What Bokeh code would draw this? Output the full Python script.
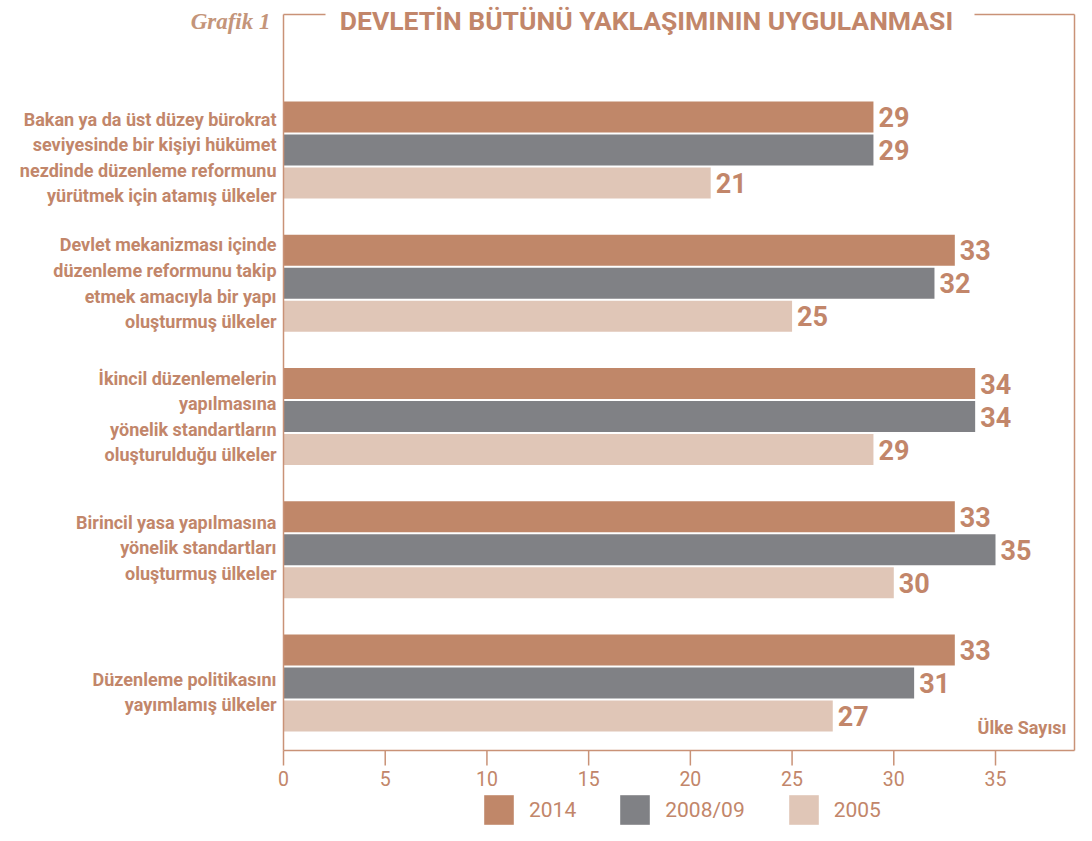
from bokeh.plotting import figure
from bokeh.models import ColumnDataSource, Range1d, Legend, LegendItem
from bokeh.core.properties import value
from bokeh.embed import file_html
from bokeh.resources import INLINE

# ---------------- data ----------------
categories = [
    "Bakan ya da üst düzey bürokrat\nseviyesinde bir kişiyi hükümet\nnezdinde düzenleme reformunu\nyürütmek için atamış ülkeler",
    "Devlet mekanizması içinde\ndüzenleme reformunu takip\netmek amacıyla bir yapı\noluşturmuş ülkeler",
    "İkincil düzenlemelerin\nyapılmasına\nyönelik standartların\noluşturulduğu ülkeler",
    "Birincil yasa yapılmasına\nyönelik standartları\noluşturmuş ülkeler",
    "Düzenleme politikasını\nyayımlamış ülkeler",
]
series = ["2014", "2008/09", "2005"]
values_2014 = [29, 33, 34, 33, 33]
values_2008 = [29, 32, 34, 35, 31]
values_2005 = [21, 25, 29, 30, 27]
x_ticks = [0, 5, 10, 15, 20, 25, 30, 35]
chart_label = "Grafik 1"
chart_title = "DEVLETİN BÜTÜNÜ YAKLAŞIMININ UYGULANMASI"
axis_title = "Ülke Sayısı"

# ---------------- style / layout ----------------
C2014 = "#C08769"
C2008 = "#808185"
C2005 = "#E0C6B7"
TXT = "#C2866A"
LINE = "#C99277"
FONT = "Roboto"

W, H = 1076, 825
X0_PX = 283.0      # canvas x of value 0
PXU = 20.343       # px per unit on x
Y0_PX = 149.5      # canvas y of first category centre
PYU = 133.25       # px per category
BAR_H = 31 / PYU
OFF = 33 / PYU


def px(cx):
    return (cx - X0_PX) / PXU


def py(cy):
    return (cy - Y0_PX) / PYU


p = figure(width=W, height=H, output_backend="svg", toolbar_location=None,
           x_range=Range1d(px(0), px(W)), y_range=Range1d(py(H), py(0)),
           x_axis_type=None, y_axis_type=None,
           min_border=0, min_border_left=0, min_border_right=0,
           min_border_top=0, min_border_bottom=0)
p.xgrid.visible = False
p.ygrid.visible = False
p.outline_line_color = None
p.background_fill_color = "white"
p.border_fill_color = "white"

pos = list(range(len(categories)))

# bars + value labels
cols = [(values_2014, C2014, -OFF), (values_2008, C2008, 0.0), (values_2005, C2005, OFF)]
renderers = []
for vals, col, off in cols:
    src = ColumnDataSource(dict(y=[i + off for i in pos], v=vals, t=[str(v) for v in vals]))
    r = p.hbar(y="y", left=0, right="v", height=BAR_H, source=src,
               fill_color=col, line_color=None)
    renderers.append(r)
    p.text(x="v", y="y", text="t", source=src, x_offset=5,
           text_baseline="middle", text_align="left",
           text_font=value(FONT), text_font_size="27px", text_font_style="bold",
           text_color=TXT)

# frame lines
F_TOP, F_BOT, F_RIGHT = py(14), py(750), px(1074)
p.segment(x0=[0, 0, F_RIGHT, 0, px(974)],
          y0=[F_TOP, F_BOT, F_TOP, F_TOP, F_TOP],
          x1=[0, F_RIGHT, F_RIGHT, px(325), F_RIGHT],
          y1=[F_BOT, F_BOT, F_BOT, F_TOP, F_TOP],
          line_color=LINE, line_width=1.5)

# x ticks and tick labels
p.segment(x0=x_ticks, x1=x_ticks, y0=[py(750)] * len(x_ticks), y1=[py(765)] * len(x_ticks),
          line_color=LINE, line_width=1.5)
p.text(x=x_ticks, y=[py(778)] * len(x_ticks), text=[str(t) for t in x_ticks],
       text_align="center", text_baseline="middle",
       text_font=value(FONT), text_font_size="19.5px", text_color=TXT)

# category labels
label_shift = [7.5, 0, 0, -2, 9]
p.text(x=[px(276)] * len(pos), y=[i + s / PYU for i, s in zip(pos, label_shift)],
       text=categories, text_align="right", text_baseline="middle",
       text_font=value(FONT), text_font_size="18px", text_font_style="bold",
       text_color=TXT, text_line_height=1.22)

# titles
p.text(x=[px(646)], y=[py(20)], text=[chart_title], text_align="center",
       text_baseline="middle", text_font=value(FONT), text_font_size="26.5px",
       text_font_style="bold", text_color=TXT)
p.text(x=[px(270)], y=[py(21)], text=[chart_label], text_align="right",
       text_baseline="middle", text_font=value("Liberation Serif"), text_font_size="23px",
       text_font_style="bold italic", text_color="#C4957A")
p.text(x=[px(1066)], y=[py(727)], text=[axis_title], text_align="right",
       text_baseline="middle", text_font=value(FONT), text_font_size="18px",
       text_font_style="bold", text_color=TXT)

legend = Legend(items=[LegendItem(label=s, renderers=[r]) for s, r in zip(series, renderers)],
                orientation="horizontal", location=(480, -3),
                glyph_width=37, glyph_height=37, label_standoff=12, spacing=40,
                padding=0, margin=0, border_line_color=None,
                background_fill_alpha=0,
                label_text_font=FONT, label_text_font_size="21px",
                label_text_color=TXT)
p.add_layout(legend)

open("out.html", "w").write(file_html(p, INLINE))
